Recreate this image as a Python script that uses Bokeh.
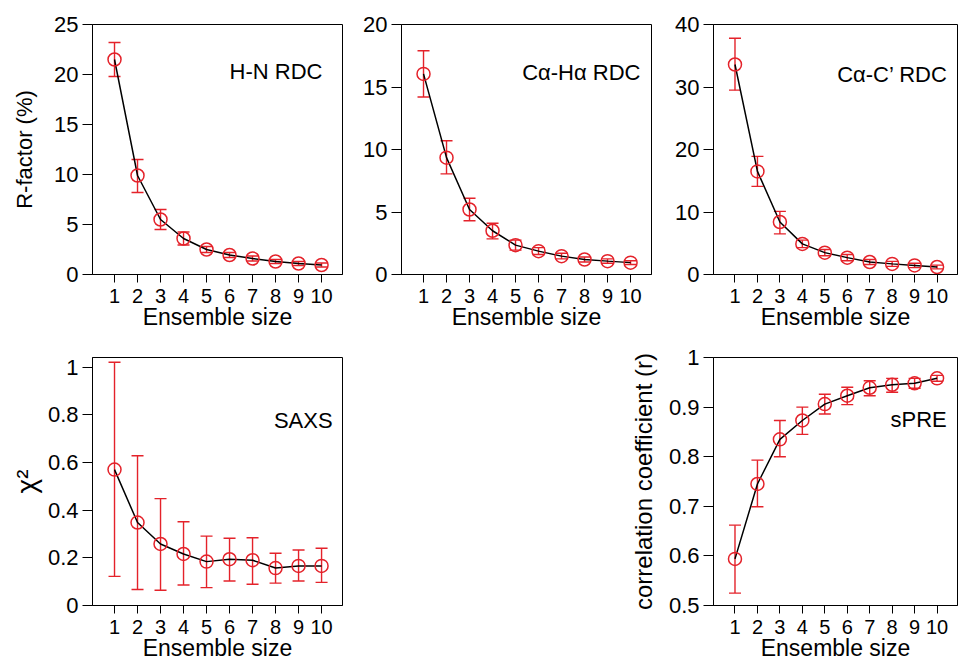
from bokeh.plotting import figure
from bokeh.models import (Whisker, TeeHead, ColumnDataSource, FixedTicker, Label,
                          Spacer, PrintfTickFormatter, Range1d)
from bokeh.layouts import row, column
from bokeh.embed import file_html
from bokeh.resources import INLINE

# ---------------- data ----------------
ensemble = [1, 2, 3, 4, 5, 6, 7, 8, 9, 10]
x_ticks = [1, 2, 3, 4, 5, 6, 7, 8, 9, 10]
x_tick_labels = ["1", "2", "3", "4", "5", "6", "7", "8", "9", "10"]

hn_mean = [21.5, 9.9, 5.5, 3.6, 2.5, 1.95, 1.6, 1.3, 1.1, 0.95]
hn_lo = [19.8, 8.2, 4.5, 2.95, 2.2, 1.7, 1.35, 1.1, 0.9, 0.75]
hn_hi = [23.2, 11.5, 6.5, 4.25, 2.8, 2.2, 1.85, 1.5, 1.3, 1.15]

caha_mean = [16.05, 9.35, 5.2, 3.5, 2.35, 1.87, 1.47, 1.2, 1.07, 0.95]
caha_lo = [14.2, 8.05, 4.3, 2.85, 1.95, 1.6, 1.25, 1.0, 0.9, 0.8]
caha_hi = [17.9, 10.7, 6.1, 4.1, 2.75, 2.15, 1.7, 1.4, 1.25, 1.1]

cac_mean = [33.6, 16.5, 8.4, 4.9, 3.5, 2.7, 2.0, 1.7, 1.45, 1.2]
cac_lo = [29.5, 14.1, 6.5, 4.3, 3.0, 2.2, 1.6, 1.3, 1.1, 0.9]
cac_hi = [37.8, 18.9, 10.1, 5.5, 4.0, 3.2, 2.4, 2.1, 1.8, 1.5]

saxs_mean = [0.57, 0.348, 0.258, 0.216, 0.184, 0.194, 0.19, 0.157, 0.166, 0.166]
saxs_lo = [0.122, 0.067, 0.064, 0.086, 0.075, 0.103, 0.089, 0.094, 0.103, 0.097]
saxs_hi = [1.02, 0.628, 0.448, 0.351, 0.291, 0.282, 0.284, 0.219, 0.233, 0.24]

spre_mean = [0.594, 0.745, 0.835, 0.873, 0.906, 0.923, 0.939, 0.945, 0.948, 0.958]
spre_lo = [0.525, 0.699, 0.80, 0.845, 0.886, 0.905, 0.923, 0.930, 0.938, 0.952]
spre_hi = [0.662, 0.793, 0.873, 0.90, 0.926, 0.940, 0.953, 0.958, 0.958, 0.964]

rdc_hn_yticks = [0, 5, 10, 15, 20, 25]
rdc_hn_ylabels = ["0", "5", "10", "15", "20", "25"]
rdc_caha_yticks = [0, 5, 10, 15, 20]
rdc_caha_ylabels = ["0", "5", "10", "15", "20"]
rdc_cac_yticks = [0, 10, 20, 30, 40]
rdc_cac_ylabels = ["0", "10", "20", "30", "40"]
saxs_yticks = [0, 0.2, 0.4, 0.6, 0.8, 1.0]
saxs_ylabels = ["0", "0.2", "0.4", "0.6", "0.8", "1"]
spre_yticks = [0.5, 0.6, 0.7, 0.8, 0.9, 1.0]
spre_ylabels = ["0.5", "0.6", "0.7", "0.8", "0.9", "1"]

# ---------------- style ----------------
RED = "#e4222a"
FONT = "Liberation Sans"


def panel(mean, lo, hi, yr, yticks, ylabels, name, lx, ly, ylabel,
          width, height, bl, br, bt, bb, ylabel_size="22px", ylabel_standoff=14):
    p = figure(width=width, height=height, output_backend="svg", toolbar_location=None,
               x_range=Range1d(0.043, 10.91), y_range=Range1d(*yr),
               min_border_left=bl, min_border_right=br, min_border_top=bt,
               min_border_bottom=bb)
    p.grid.visible = False
    p.outline_line_color = "black"
    p.outline_line_width = 1
    p.background_fill_color = "white"
    p.border_fill_color = "white"

    src = ColumnDataSource(dict(x=ensemble, y=mean, lo=lo, hi=hi))
    w = Whisker(source=src, base="x", upper="hi", lower="lo", line_color=RED,
                line_width=1.4,
                upper_head=TeeHead(size=12, line_color=RED, line_width=1.4),
                lower_head=TeeHead(size=12, line_color=RED, line_width=1.4))
    p.add_layout(w)
    p.line("x", "y", source=src, line_color="black", line_width=1.5)
    p.scatter("x", "y", source=src, marker="circle", size=13, fill_color=None,
              line_color=RED, line_width=1.5)

    # axes
    p.xaxis.ticker = FixedTicker(ticks=x_ticks)
    p.xaxis.major_label_overrides = {t: l for t, l in zip(x_ticks, x_tick_labels)}
    p.yaxis.ticker = FixedTicker(ticks=yticks)
    p.yaxis.formatter = PrintfTickFormatter(format="%g")
    p.yaxis.major_label_overrides = {t: l for t, l in zip(yticks, ylabels)}
    for ax in (p.xaxis, p.yaxis):
        ax.axis_line_color = "black"
        ax.axis_line_width = 1
        ax.major_tick_line_color = "black"
        ax.major_tick_line_width = 1
        ax.major_tick_in = 0
        ax.minor_tick_line_color = None
        ax.major_label_text_font = FONT
        ax.major_label_text_color = "black"
        ax.axis_label_text_font = FONT
        ax.axis_label_text_font_style = "normal"
        ax.axis_label_text_color = "black"
    p.xaxis.major_tick_out = 8
    p.xaxis.major_label_text_font_size = "20px"
    p.xaxis.major_label_standoff = 6
    p.xaxis.axis_label = "Ensemble size"
    p.xaxis.axis_label_text_font_size = "23px"
    p.xaxis.axis_label_standoff = -2
    p.yaxis.major_tick_out = 10
    p.yaxis.major_label_text_font_size = "22px"
    p.yaxis.major_label_standoff = 4
    p.yaxis.axis_label = ylabel
    p.yaxis.axis_label_text_font_size = ylabel_size
    p.yaxis.axis_label_standoff = ylabel_standoff

    p.add_layout(Label(x=lx, y=ly, text=name, text_align="right",
                       text_baseline="middle", text_font=FONT,
                       text_font_size="22px", text_color="black"))
    return p


TOP_H = 24 + 250 + 64
BOT_H = 19 + 248 + 62

f1 = panel(hn_mean, hn_lo, hn_hi, (0, 25), rdc_hn_yticks, rdc_hn_ylabels,
           "H-N RDC", 10.04, 20.3, "R-factor (%)", 351, TOP_H, 92, 9, 24, 64,
           ylabel_standoff=14)
f2 = panel(caha_mean, caha_lo, caha_hi, (0, 20), rdc_caha_yticks, rdc_caha_ylabels,
           "Cα-Hα RDC", 10.43, 16.2, None, 312, TOP_H, 50, 12, 24, 64)
f3 = panel(cac_mean, cac_lo, cac_hi, (0, 40), rdc_cac_yticks, rdc_cac_ylabels,
           "Cα-C’ RDC", 10.47, 32.0, None, 295, TOP_H, 50, 1, 24, 64)
f4 = panel(saxs_mean, saxs_lo, saxs_hi, (0, 1.04), saxs_yticks, saxs_ylabels,
           "SAXS", 10.48, 0.776, "χ²", 351, BOT_H, 92, 9, 19, 62,
           ylabel_size="28px", ylabel_standoff=3)
f6 = panel(spre_mean, spre_lo, spre_hi, (0.5, 1.0), spre_yticks, spre_ylabels,
           "sPRE", 10.43, 0.874, "correlation coefficient (r)", 337, BOT_H, 92, 1, 19, 62,
           ylabel_size="24px", ylabel_standoff=9)

layout = column(row(f1, f2, f3), row(f4, Spacer(width=270, height=BOT_H), f6))

open("out.html", "w").write(file_html(layout, INLINE))
